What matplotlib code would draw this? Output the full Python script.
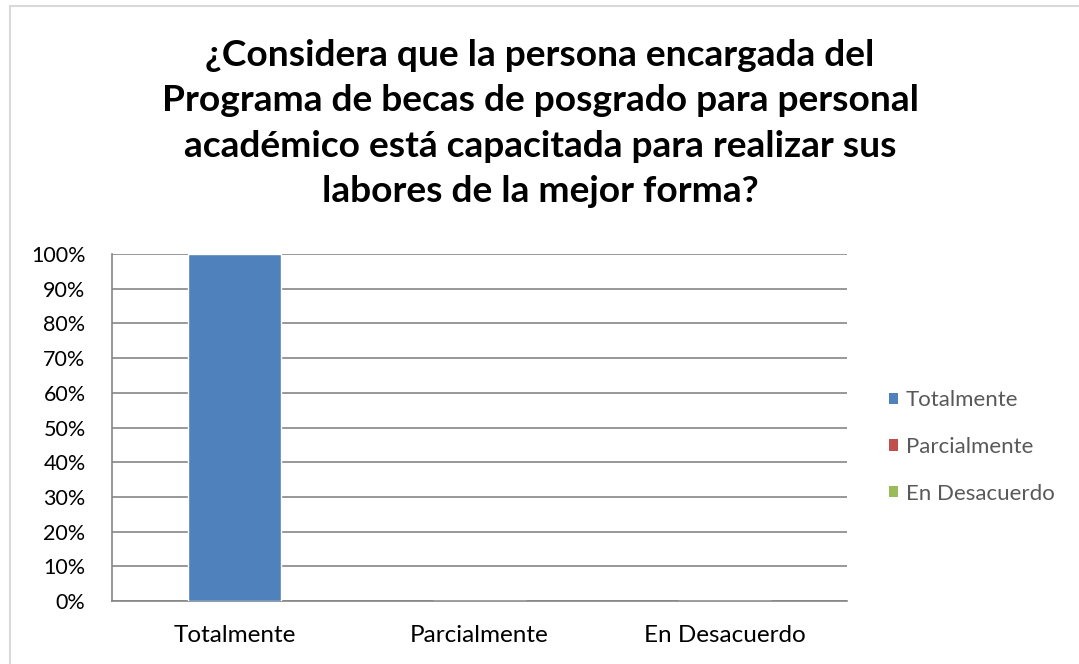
import matplotlib
matplotlib.use("Agg")
import matplotlib.pyplot as plt
from matplotlib.ticker import PercentFormatter, MultipleLocator
from matplotlib.lines import Line2D
from matplotlib.patches import Patch

categories = ["Totalmente", "Parcialmente", "En Desacuerdo"]
values = [100, 0, 0]
colors = ["#4F81BD", "#C0504D", "#9BBB59"]
title = ("¿Considera que la persona encargada del\n"
         "Programa de becas de posgrado para personal\n"
         "académico está capacitada para realizar sus\n"
         "labores de la mejor forma?")

plt.rcParams['font.family'] = ['Lato', 'DejaVu Sans']

W, H = 1079, 664
fig = plt.figure(figsize=(W / 100, H / 100), dpi=100)
fig.patch.set_facecolor("white")

# outer chart border (light gray), left and top edges visible
fig.add_artist(Line2D([10 / W, 10 / W], [0, 1 - 6 / H], transform=fig.transFigure,
                      color="#D9D9D9", lw=1.5))
fig.add_artist(Line2D([10 / W, 1], [1 - 6 / H, 1 - 6 / H], transform=fig.transFigure,
                      color="#D9D9D9", lw=1.5))

left, right, top, bottom = 112, 847, 254, 601
ax = fig.add_axes([left / W, 1 - bottom / H, (right - left) / W, (bottom - top) / H])

x = list(range(len(categories)))
ax.bar(x, values, width=0.38, color=colors, edgecolor="white", linewidth=1.0, zorder=3)

ax.set_xlim(-0.5, len(categories) - 0.5)
ax.set_ylim(0, 100)
ax.yaxis.set_major_locator(MultipleLocator(10))
ax.yaxis.set_major_formatter(PercentFormatter(decimals=0))
ax.grid(axis="y", color="#868686", lw=1.2, zorder=0)
ax.set_xticks(x)
ax.set_xticklabels(categories)
for s in ["top", "right"]:
    ax.spines[s].set_visible(False)
for s in ["left", "bottom"]:
    ax.spines[s].set_color("#868686")
    ax.spines[s].set_linewidth(1.2)
ax.tick_params(axis="both", length=0, colors="black")
ax.tick_params(axis="y", labelsize=15.5, pad=19)
ax.tick_params(axis="x", labelsize=17.5, pad=17)

fig.text(540 / W, 1 - 39 / H, title, ha="center", va="top",
         fontsize=26.7, fontweight="bold", linespacing=1.46)

handles = [Patch(facecolor=c, edgecolor="none") for c in colors]
leg = fig.legend(handles, categories, loc="center left", bbox_to_anchor=(869 / W, 1 - 447 / H),
                 frameon=False, fontsize=16, labelcolor="#595959", handlelength=0.42,
                 handleheight=0.42, handletextpad=0.35, labelspacing=1.2)

fig.savefig("out.png", dpi=100, facecolor="white")
